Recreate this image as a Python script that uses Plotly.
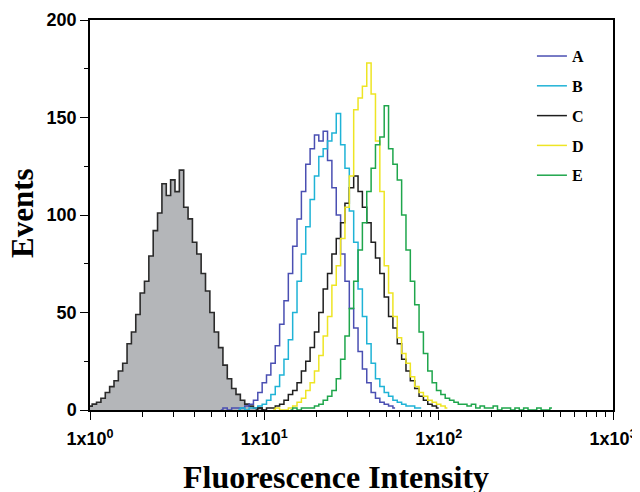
import plotly.graph_objects as go

# Histogram bin centres (fluorescence intensity, log spaced 0.025 decade)
BINS = [1.000, 1.059, 1.122, 1.189, 1.259, 1.334, 1.413, 1.496, 1.585, 1.679,
        1.778, 1.884, 1.995, 2.113, 2.239, 2.371, 2.512, 2.661, 2.818, 2.985,
        3.162, 3.350, 3.548, 3.758, 3.981, 4.217, 4.467, 4.732, 5.012, 5.309,
        5.623, 5.957, 6.310, 6.683, 7.079, 7.499, 7.943, 8.414, 8.913, 9.441,
        10.00, 10.59, 11.22, 11.89, 12.59, 13.34, 14.13, 14.96, 15.85, 16.79,
        17.78, 18.84, 19.95, 21.13, 22.39, 23.71, 25.12, 26.61, 28.18, 29.85,
        31.62, 33.50, 35.48, 37.58, 39.81, 42.17, 44.67, 47.32, 50.12, 53.09,
        56.23, 59.57, 63.10, 66.83, 70.79, 74.99, 79.43, 84.14, 89.13, 94.41,
        100.0, 105.9, 112.2, 118.9, 125.9, 133.4, 141.3, 149.6, 158.5, 167.9,
        177.8, 188.4, 199.5, 211.3, 223.9, 237.1, 251.2, 266.1, 281.8, 298.5,
        316.2, 335.0, 354.8, 375.8, 398.1, 421.7, 446.7, 473.2, 501.2, 530.9,
        562.3, 595.7, 631.0, 668.3, 707.9, 749.9, 794.3, 841.4, 891.3, 944.1,
        1000.0]

# Control (unstained) histogram, starts at bin 0
CTRL_START = 0
CTRL = [2, 3, 4, 6, 9, 12, 15, 20, 24, 34, 40, 49, 60, 66, 79, 92, 101, 116, 110, 118,
        112, 123, 104, 98, 86, 80, 70, 61, 50, 40, 32, 23, 16, 11, 8, 5, 3, 2, 1, 1, 0]

A_START = 30
A = [0, 1, 0, 1, 1, 1, 2, 3, 5, 9, 14, 18, 24, 33, 44, 56, 70, 84, 98, 112,
     126, 134, 141, 138, 143, 128, 114, 100, 80, 66, 52, 42, 30, 21, 14, 9, 6, 4, 3, 2, 1]

B_START = 34
B = [0, 1, 0, 1, 1, 2, 3, 5, 8, 12, 18, 26, 36, 50, 66, 80, 94, 108, 120, 130,
     134, 138, 142, 152, 136, 124, 102, 86, 62, 48, 34, 24, 16, 12, 9, 7, 5, 4, 3, 2,
     2, 1, 1]

C_START = 38
C = [0, 1, 0, 1, 1, 2, 3, 5, 8, 10, 14, 20, 25, 32, 40, 50, 62, 70, 80, 88,
     96, 106, 114, 120, 112, 104, 96, 86, 78, 70, 58, 48, 42, 34, 26, 20, 15, 11, 7, 5,
     3, 2, 1]

D_START = 42
D = [0, 1, 0, 0, 1, 2, 4, 6, 10, 14, 20, 28, 38, 48, 64, 74, 88, 104, 120, 154,
     160, 166, 178, 162, 138, 112, 74, 60, 48, 37, 29, 24, 17, 12, 9, 7, 5, 4, 3, 2, 1]

E_START = 46
E = [0, 1, 0, 1, 1, 1, 2, 3, 5, 7, 10, 16, 26, 38, 52, 66, 82, 96, 112, 124,
     136, 140, 156, 134, 126, 118, 100, 82, 66, 54, 40, 29, 20, 14, 10, 8, 6, 5, 4, 3,
     3, 2, 3, 1, 2, 1, 1, 2, 0, 1, 1, 0, 1, 0, 1, 0, 0, 1, 0, 0, 1]

SERIES = [("A", A_START, A, "#4a4fb2"),
          ("B", B_START, B, "#1fb3d6"),
          ("C", C_START, C, "#1e1e1e"),
          ("D", D_START, D, "#eee524"),
          ("E", E_START, E, "#1fa64c")]

X_TICKS = [1, 10, 100, 1000]
X_TICKTEXT = ["1x10<sup>0</sup>", "1x10<sup>1</sup>", "1x10<sup>2</sup>", "1x10<sup>3</sup>"]
X_MINOR = [2, 3, 4, 5, 6, 7, 8, 9, 20, 30, 40, 50, 60, 70, 80, 90,
           200, 300, 400, 500, 600, 700, 800, 900]
Y_TICKS = [0, 50, 100, 150, 200]

fig = go.Figure()

fig.add_trace(go.Scatter(
    x=BINS[CTRL_START:CTRL_START + len(CTRL)], y=CTRL,
    mode="lines", line=dict(shape="hvh", color="#2b2b2b", width=1.6),
    fill="tozeroy", fillcolor="#b4b6b9", showlegend=False, hoverinfo="skip"))

for name, start, vals, color in SERIES:
    fig.add_trace(go.Scatter(
        x=BINS[start:start + len(vals)], y=vals, name=name,
        legendgroup=name,
        mode="lines", line=dict(shape="hvh", color=color, width=1.5)))

title_font = dict(family="Liberation Serif", color="black", weight="bold")

# The page body adds an 8 px offset; plot area should sit at x 90..613, y 20..410 on screen.
fig.update_layout(
    width=640, height=492,
    margin=dict(l=82, r=35, t=12, b=90),
    paper_bgcolor="white", plot_bgcolor="white",
    legend=dict(x=0.845, y=0.951, xanchor="left", yanchor="top",
                font=dict(family="Liberation Serif", size=16, color="black", weight="bold"),
                tracegroupgap=6, bgcolor="rgba(0,0,0,0)"),
    annotations=[
        dict(text="Fluorescence Intensity", xref="paper", yref="paper",
             x=(336 - 90) / 523, y=-(477 - 410) / 390, xanchor="center", yanchor="middle",
             showarrow=False, font=dict(size=32, **title_font)),
        dict(text="Events", xref="paper", yref="paper", textangle=-90,
             x=-(90 - 22) / 523, y=(410 - 213) / 390, xanchor="center", yanchor="middle",
             showarrow=False, font=dict(size=31, **title_font)),
    ],
)

fig.update_xaxes(
    type="log", range=[0, 3], automargin=False,
    tickvals=X_TICKS, ticktext=X_TICKTEXT, ticklabelstandoff=4,
    ticks="outside", ticklen=8, tickwidth=1.3, tickcolor="black",
    minor=dict(tickvals=X_MINOR, ticks="outside", ticklen=5, tickwidth=1.2, tickcolor="black"),
    showline=True, linecolor="black", linewidth=1.5, mirror=True,
    showgrid=False, zeroline=False,
    tickfont=dict(family="Liberation Sans", size=18, color="black", weight="bold"),
)

fig.update_yaxes(
    range=[0, 200], tickvals=Y_TICKS, automargin=False,
    ticks="outside", ticklen=8, tickwidth=1.3, tickcolor="black",
    minor=dict(dtick=25, ticks="outside", ticklen=4, tickwidth=1.2, tickcolor="black"),
    showline=True, linecolor="black", linewidth=1.5, mirror=True,
    showgrid=False, zeroline=False,
    tickfont=dict(family="Liberation Sans", size=18, color="black", weight="bold"),
)

fig.write_html("out.html")
